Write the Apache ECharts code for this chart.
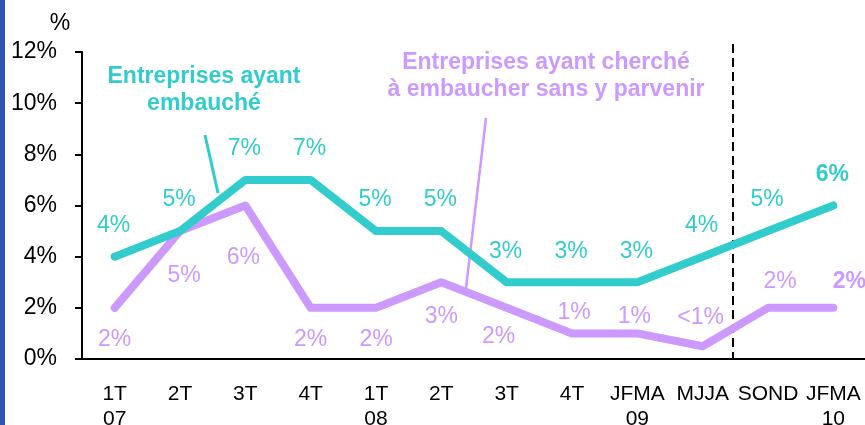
<!DOCTYPE html>
<html>
<head>
<meta charset="utf-8">
<script src="https://cdn.jsdelivr.net/npm/echarts@6/dist/echarts.min.js"></script>
<style>
  html, body { margin: 0; padding: 0; background: #fff; }
  #main { width: 865px; height: 425px; }
</style>
</head>
<body>
<div id="main"></div>
<script>
var categories = ['1T\n07', '2T', '3T', '4T', '1T\n08', '2T', '3T', '4T', 'JFMA\n09', 'MJJA', 'SOND', 'JFMA\n10'];
var embauche = [4, 5, 7, 7, 5, 5, 3, 3, 3, 4, 5, 6];
var sansParvenir = [2, 5, 6, 2, 2, 3, 2, 1, 1, 0.5, 2, 2];
var yMin = 0, yMax = 12, yStep = 2;

var teal = '#33CCCC';
var purple = '#CC99FF';
var font = 'Liberation Sans, Arial, sans-serif';

// label placement of the purple series (offset from the point, px)
var purpleOffsets = [[0, 32], [4, 45], [-2, 52], [0, 32], [0, 32], [0, 34], [-8, 29], [2, -21], [-3, -17], [-2, -29], [12, -26], [16, -26]];

function pct(v) {
    return v < 1 ? '<1%' : v + '%';
}

var chart = echarts.init(document.getElementById('main'));

var option = {
    animation: false,
    backgroundColor: '#fff',
    grid: { left: 82, top: 52, width: 784, height: 307, outerBoundsMode: 'none', containLabel: false },
    xAxis: {
        type: 'category',
        data: categories,
        axisLine: { lineStyle: { color: '#000', width: 2 } },
        axisTick: { length: 6, interval: 0, lineStyle: { color: '#000', width: 2 } },
        axisLabel: {
            interval: 0,
            margin: 23,
            color: '#000',
            fontSize: 21,
            lineHeight: 25,
            fontFamily: font
        },
        splitLine: { show: false }
    },
    yAxis: {
        type: 'value',
        min: yMin,
        max: yMax,
        interval: yStep,
        axisLine: { show: true, lineStyle: { color: '#000', width: 2 } },
        axisTick: { show: true, length: 7, lineStyle: { color: '#000', width: 2 } },
        axisLabel: {
            formatter: '{value}%',
            margin: 25,
            color: '#000',
            fontSize: 23,
            fontFamily: font
        },
        splitLine: { show: false }
    },
    series: [{
        name: 'Entreprises ayant cherché à embaucher sans y parvenir',
        type: 'line',
        symbol: 'circle',
        symbolSize: 1,
        itemStyle: { color: purple },
        lineStyle: { color: purple, width: 8, cap: 'round', join: 'round' },
        data: sansParvenir.map(function (v, i) {
            return {
                value: v,
                label: {
                    show: true,
                    position: 'inside',
                    offset: purpleOffsets[i],
                    formatter: pct(v),
                    color: purple,
                    fontSize: 23,
                    fontFamily: font,
                    fontWeight: i === sansParvenir.length - 1 ? 'bold' : 'normal'
                }
            };
        })
    }, {
        name: 'Entreprises ayant embauché',
        type: 'line',
        symbol: 'circle',
        symbolSize: 1,
        itemStyle: { color: teal },
        lineStyle: { color: teal, width: 8, cap: 'round', join: 'round' },
        data: embauche.map(function (v, i) {
            return {
                value: v,
                label: {
                    show: true,
                    position: 'inside',
                    offset: [-1, -31],
                    formatter: pct(v),
                    color: teal,
                    fontSize: 23,
                    fontFamily: font,
                    fontWeight: i === embauche.length - 1 ? 'bold' : 'normal'
                }
            };
        })
    }],
    graphic: [
        // blue stripe on the left edge
        { type: 'rect', shape: { x: 0, y: 0, width: 5, height: 425 }, style: { fill: '#2E54B4' } },
        // unit
        { type: 'text', x: 60, y: 24, style: { text: '%', fill: '#000', font: '23px ' + font, textAlign: 'center', textVerticalAlign: 'middle' } },
        // annotations
        { type: 'text', x: 204, y: 90, style: { text: 'Entreprises ayant\nembauché', fill: teal, font: 'bold 23px ' + font, lineHeight: 27, textAlign: 'center', textVerticalAlign: 'middle' } },
        { type: 'text', x: 546, y: 76, style: { text: 'Entreprises ayant cherché\nà embaucher sans y parvenir', fill: purple, font: 'bold 23px ' + font, lineHeight: 27, textAlign: 'center', textVerticalAlign: 'middle' } },
        { type: 'line', shape: { x1: 205, y1: 135, x2: 218, y2: 193 }, style: { stroke: teal, lineWidth: 3 } },
        { type: 'line', shape: { x1: 486, y1: 118, x2: 466, y2: 288 }, style: { stroke: purple, lineWidth: 2.5 } },
        // separator
        { type: 'line', shape: { x1: 733, y1: 44, x2: 733, y2: 359 }, style: { stroke: '#000', lineWidth: 2, lineDash: [9, 5] } }
    ]
};

chart.setOption(option);
</script>
</body>
</html>
